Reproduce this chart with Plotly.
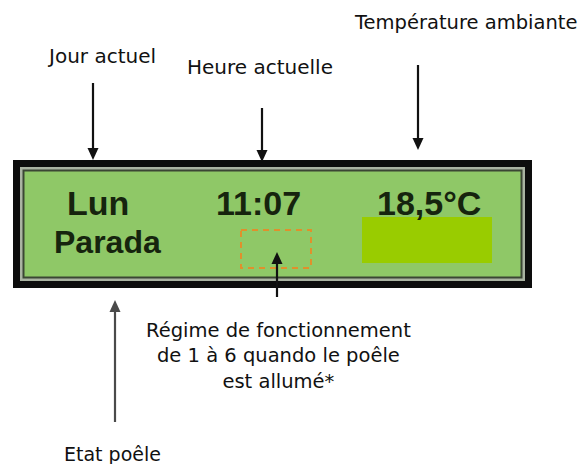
import plotly.graph_objects as go

# ---- content ----
callout_labels = ["Jour actuel", "Heure actuelle", "Température ambiante",
                  "Régime de fonctionnement<br>de 1 à 6 quando le poêle<br>est allumé*",
                  "Etat poêle"]
callout_x = [101, 260, 465, 278, 112]
callout_y = [56, 66.5, 22.5, 355.5, 453.5]
callout_size = [20, 20, 19.5, 19.5, 19]

lcd_texts = ["Lun", "Parada", "11:07", "18,5°C"]
lcd_x = [98, 107, 258, 429]
lcd_y = [203, 241.5, 203, 203]
lcd_size = [34, 32, 34, 34]

# arrows: (x, tail_y, tip_y, colour)
arrow_x = [93, 262, 418, 115, 277]
arrow_tail = [83, 108, 65, 422, 297]
arrow_tip = [160, 162, 150, 300, 252]
arrow_col = ["#111111", "#111111", "#111111", "#4a4a4a", "#111111"]

W, H = 581, 464
fig = go.Figure()

shapes = []
# LCD frame
shapes.append(dict(type="rect", x0=13, x1=532, y0=160, y1=288, fillcolor="#0d0d0d", line=dict(width=0)))
shapes.append(dict(type="rect", x0=20, x1=525, y0=167, y1=281, fillcolor="#aab3a2", line=dict(width=0)))
shapes.append(dict(type="rect", x0=22.5, x1=522.5, y0=169.5, y1=278.5, fillcolor="#3b4634", line=dict(width=0)))
shapes.append(dict(type="rect", x0=24.5, x1=520.5, y0=171.5, y1=276.5, fillcolor="#8fc867", line=dict(width=0)))
# bright green mask
shapes.append(dict(type="rect", x0=362, x1=492, y0=217, y1=263, fillcolor="#99cc00", line=dict(width=0), layer="above"))
# dashed orange box
shapes.append(dict(type="rect", x0=241, x1=311, y0=230, y1=268, fillcolor="rgba(0,0,0,0)",
                   line=dict(color="#e0902c", width=2, dash="6px,5px")))

for x, t0, t1, c in zip(arrow_x, arrow_tail, arrow_tip, arrow_col):
    d = 1 if t1 > t0 else -1
    head = 12
    shapes.append(dict(type="line", x0=x, x1=x, y0=t0, y1=t1 - d * head + d, line=dict(color=c, width=2.2), layer="above"))
    shapes.append(dict(type="path",
                       path=f"M {x-5.5},{t1-d*head} L {x+5.5},{t1-d*head} L {x},{t1} Z",
                       fillcolor=c, line=dict(width=0), layer="above"))

fig.update_layout(shapes=shapes)

annotations = []
for t, x, y, s in zip(lcd_texts, lcd_x, lcd_y, lcd_size):
    annotations.append(dict(x=x, y=y, text=f"<b>{t}</b>", showarrow=False, xanchor="center", yanchor="middle",
                            font=dict(family="Liberation Sans, Arial", size=s, color="#16240e")))
for t, x, y, s in zip(callout_labels, callout_x, callout_y, callout_size):
    annotations.append(dict(x=x, y=y, text=t, showarrow=False, xanchor="center", yanchor="middle",
                            align="center", font=dict(family="DejaVu Sans", size=s, color="#111111")))
fig.update_layout(annotations=annotations)

fig.update_xaxes(range=[0, W], visible=False, fixedrange=True)
fig.update_yaxes(range=[H, 0], visible=False, fixedrange=True)
fig.update_layout(width=W, height=H, margin=dict(l=0, r=0, t=0, b=0),
                  paper_bgcolor="white", plot_bgcolor="white", showlegend=False)

fig.write_html("out.html", config={"displayModeBar": False},
               post_script="document.body.style.margin='0';document.body.style.overflow='hidden';")
